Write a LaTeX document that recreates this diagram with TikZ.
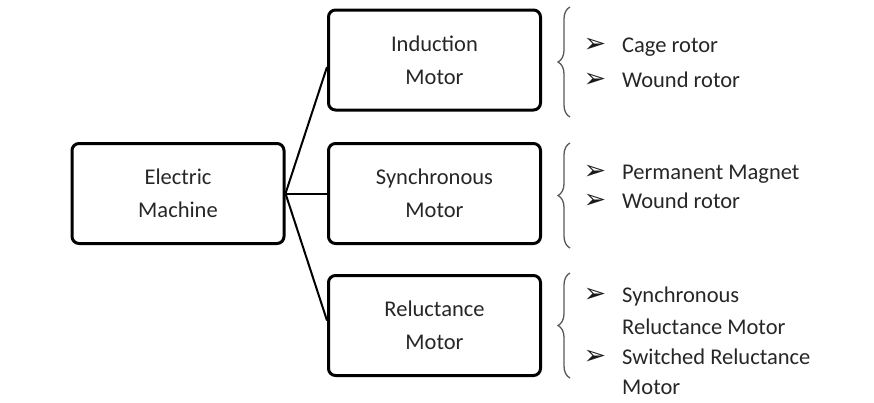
\documentclass[tikz,border=0pt]{standalone}
\usepackage{fontspec}
\setmainfont{Carlito}
\newfontfamily\symfont{DejaVu Sans}
\usepackage{tikz}
\usetikzlibrary{decorations.pathreplacing}

\begin{document}
\begin{tikzpicture}[x=1pt,y=-1pt,
    box/.style={draw,line width=3pt,rounded corners=7pt,minimum width=212pt,minimum height=100pt,
      align=center,text=black!85,font=\fontsize{22.5}{33}\selectfont},
    item/.style={anchor=west,text=black!85,inner sep=0pt,text height=14.5pt,text depth=0pt,
      font=\fontsize{22.5}{27}\selectfont},
    tip/.style={inner sep=0pt,text=black!90,font=\symfont\fontsize{27}{27}\selectfont},
    curly/.style={decorate,decoration={brace,amplitude=12pt},line width=1.3pt,draw=black!65}]
    \useasboundingbox (0,0) rectangle (874,402);

    \node[box] (em) at (178,193.5) {Electric\\Machine};
    \node[box] (im) at (434.5,60) {Induction\\Motor};
    \node[box] (sm) at (434.5,193.5) {Synchronous\\Motor};
    \node[box] (rm) at (434.5,325.5) {Reluctance\\Motor};

    \draw[-,line width=2pt] (em.east) to ([yshift=-7pt]im.west);
    \draw[-,line width=2pt] (em.east) to (sm.west);
    \draw[-,line width=2pt] (em.east) to ([yshift=5pt]rm.west);

    % braces
    \coordinate (b1a) at (570,117); \coordinate (b1b) at (570,7);
    \coordinate (b2a) at (570,248); \coordinate (b2b) at (570,143);
    \coordinate (b3a) at (570,378); \coordinate (b3b) at (570,273);
    \draw[curly] (b1a) -- (b1b);
    \draw[curly] (b2a) -- (b2b);
    \draw[curly] (b3a) -- (b3b);

    % induction
    \node[tip] (t1) at (595,45) {➢};
    \node[item] (cage) at (622,45) {Cage rotor};
    \node[tip] (t2) at (595,80) {➢};
    \node[item] (wr1) at (622,80) {Wound rotor};

    % synchronous
    \node[tip] (t3) at (595,172) {➢};
    \node[item] (pm) at (622,172) {Permanent Magnet};
    \node[tip] (t4) at (595,201) {➢};
    \node[item] (wr2) at (622,201) {Wound rotor};

    % reluctance
    \node[tip] (t5) at (595,295) {➢};
    \node[item] (syn) at (622,295) {Synchronous};
    \node[item] (synr) at (622,327) {Reluctance Motor};
    \node[tip] (t6) at (595,357) {➢};
    \node[item] (sw) at (622,357) {Switched Reluctance};
    \node[item] (swm) at (622,387) {Motor};
\end{tikzpicture}
\end{document}
